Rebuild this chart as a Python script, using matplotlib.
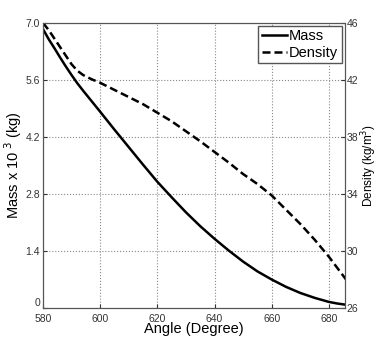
import numpy as np
import matplotlib.pyplot as plt

plt.rcParams['font.family'] = ['Liberation Sans', 'DejaVu Sans']

angle = [580, 582, 584, 586, 588, 590, 592, 594, 597, 600, 605, 610, 615, 620, 625,
         630, 635, 640, 645, 650, 655, 660, 665, 670, 675, 680, 683, 686]
mass = [6.85, 6.6, 6.38, 6.15, 5.93, 5.72, 5.52, 5.34, 5.08, 4.82, 4.38, 3.95, 3.52, 3.1, 2.72,
        2.35, 2.01, 1.7, 1.41, 1.14, 0.9, 0.7, 0.52, 0.37, 0.25, 0.15, 0.11, 0.08]
density = [46, 45.5, 44.9, 44.3, 43.7, 43.1, 42.65, 42.35, 42.05, 41.8, 41.3, 40.8, 40.3, 39.7, 39.1,
           38.4, 37.7, 36.95, 36.2, 35.4, 34.7, 33.9, 32.9, 31.9, 30.8, 29.6, 28.8, 28.0]

mass_ticks = [0, 1.4, 2.8, 4.2, 5.6, 7.0]
mass_labels = ['0', '1.4', '2.8', '4.2', '5.6', '7.0']
dens_ticks = [26, 30, 34, 38, 42, 46]
x_ticks = [580, 600, 620, 640, 660, 680]

fig = plt.figure(figsize=(3.77, 3.39), dpi=100)
ax = fig.add_axes([0.114, 0.0914, 0.80, 0.841])
ax2 = ax.twinx()

l1, = ax.plot(angle, mass, color='black', lw=1.8, label='Mass')
l2, = ax2.plot(angle, density, color='black', lw=1.8, ls=(0, (3.2, 1.6)), label='Density')

ax.set_xlim(580, 685.5)
ax.set_ylim(0, 7.0)
ax2.set_ylim(26, 46)
ax.set_xticks(x_ticks)
ax.set_yticks(mass_ticks)
ax.set_yticklabels(mass_labels)
ax2.set_yticks(dens_ticks)

for a in (ax, ax2):
    a.tick_params(direction='in', length=3, labelsize=7.5, colors='#333333', pad=2)
    for s in a.spines.values():
        s.set_color('#555555')
ax.tick_params(axis='x', pad=4)
ax2.tick_params(axis='y', pad=1.5)
ax.get_yticklabels()[0].set_va('bottom')
ax.grid(True, ls=':', color='#888888', lw=0.8)

ax.set_xlabel('Angle (Degree)', fontsize=10.5, labelpad=-1)
ax.set_ylabel('Mass x 10$^{\\ 3}$ (kg)', fontsize=10.5, labelpad=1)
ax2.set_ylabel('Density (kg/m$^3$)', fontsize=8.5)
ax2.yaxis.label.set_ha('center')
ax2.yaxis.label.set_va('center')
ax2.yaxis.set_label_coords(1.08, 0.5)

ax.legend([l1, l2], ['Mass', 'Density'], loc='upper right', fontsize=10.5,
          handlelength=1.7, handletextpad=0.15, borderpad=0.25, labelspacing=0.15,
          borderaxespad=0.2, fancybox=False, edgecolor='#555555', framealpha=1)

fig.savefig('out.png', dpi=100)
